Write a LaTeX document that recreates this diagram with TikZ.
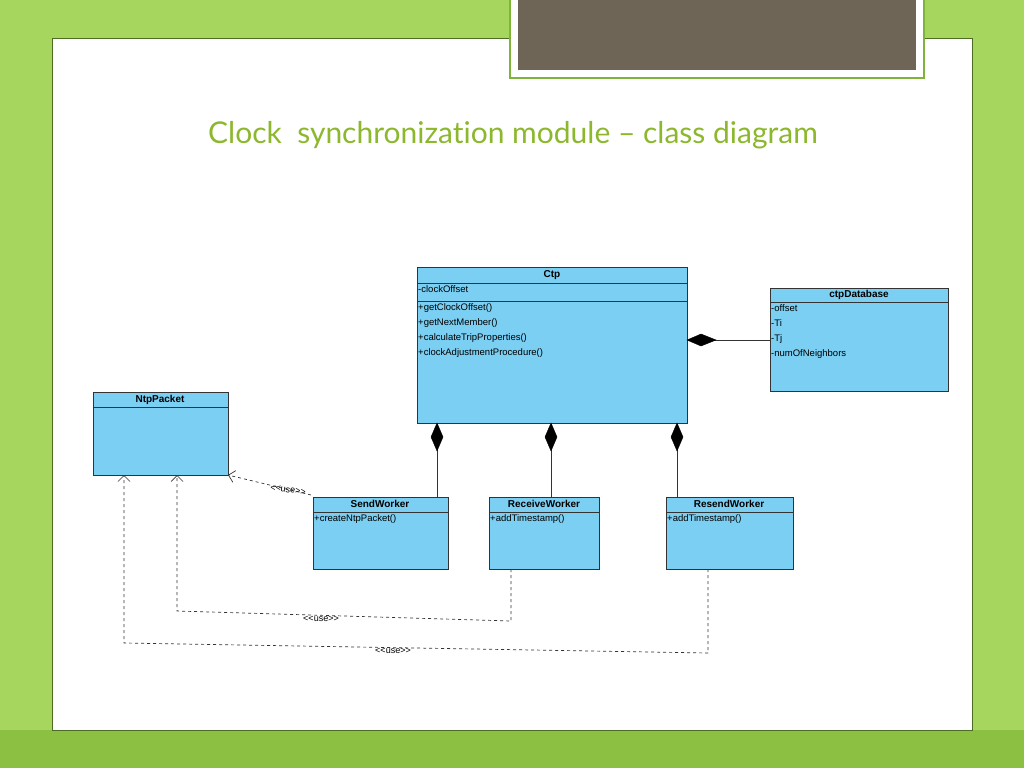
\documentclass[tikz,border=0pt]{standalone}
\usepackage{fontspec}
\setmainfont{Liberation Sans}
\newfontfamily\titlefont[Ligatures=NoCommon]{Lato}
\usetikzlibrary{arrows.meta}
\definecolor{bg}{HTML}{A6D65E}
\definecolor{bgd}{HTML}{8CC043}
\definecolor{umlfill}{HTML}{7ACFF3}
\definecolor{titlegreen}{HTML}{8DB82E}
\definecolor{topbox}{HTML}{6E6557}
\definecolor{frame}{HTML}{7FB33A}
\tikzset{
  cls/.style={draw=black!80, fill=umlfill, line width=0.8pt},
  sep/.style={draw=black!80, line width=0.8pt},
  hdr/.style={font=\fontsize{10}{11}\selectfont\bfseries, anchor=center, inner sep=0},
  mem/.style={font=\fontsize{9.5}{15}\selectfont, anchor=north west, inner sep=1pt, align=left},
  comp/.style={draw=black!80, line width=0.8pt},
  dia/.style={draw=black, fill=black},
  usedep/.style={draw=black!80, dashed, line width=0.7pt, -{Straight Barb[length=6pt,width=12pt]}},
  lbl/.style={font=\fontsize{9}{10}\selectfont, inner sep=0}
}
\newcommand\uselbl{<\kern0pt<use>\kern0pt>}
\begin{document}
\begin{tikzpicture}[x=1pt,y=-1pt]
\useasboundingbox (0,0) rectangle (1024,768);
\fill[bg] (0,0) rectangle (1024,768);
\fill[bgd] (0,730) rectangle (1024,768);
\fill[white] (52,38) rectangle (972,730);
\draw[frame!60!black, line width=0.5pt] (52,38) rectangle (972,730);
\fill[white] (510,0) rectangle (924,78);
\draw[frame, line width=1.5pt] (510,-2) rectangle (924,78);
\fill[topbox] (518,0) rectangle (916,70);
\node[text=titlegreen, font=\titlefont\fontsize{30}{34}\selectfont] (title) at (513,135) {Clock\ \ synchronization module – class diagram};

% Ctp
\draw[cls] (417,267) rectangle (687,423);
\draw[sep] (417,283) -- (687,283); \draw[sep] (417,301) -- (687,301);
\node[hdr] (ctp) at (552,275) {Ctp};
\node[mem] at (417,284) {-clockOffset};
\node[mem] at (417,302) {+getClockOffset()\\+getNextMember()\\+calculateTripProperties()\\+clockAdjustmentProcedure()};
\coordinate (ctpR) at (687,340);
\coordinate (ctpB1) at (437,423);
\coordinate (ctpB2) at (551,423);
\coordinate (ctpB3) at (677,423);

% ctpDatabase
\draw[cls] (770,288) rectangle (948,391);
\draw[sep] (770,302) -- (948,302);
\node[hdr] (db) at (859,295) {ctpDatabase};
\node[mem] at (770,303) {-offset\\-Ti\\-Tj\\-numOfNeighbors};
\coordinate (dbL) at (770,340);

% NtpPacket
\draw[cls] (93,392) rectangle (228,475);
\draw[sep] (93,407) -- (228,407);
\node[hdr] (ntp) at (160,400) {NtpPacket};
\coordinate (ntpC) at (228,475);
\coordinate (ntpB1) at (124,475);
\coordinate (ntpB2) at (177,475);

% workers
\draw[cls] (313,497) rectangle (448,569);
\draw[sep] (313,512) -- (448,512);
\node[hdr] (send) at (380,504) {SendWorker};
\node[mem] at (313,513) {+createNtpPacket()};
\draw[cls] (489,497) rectangle (599,569);
\draw[sep] (489,512) -- (599,512);
\node[hdr] (recv) at (544,504) {ReceiveWorker};
\node[mem] at (489,513) {+addTimestamp()};
\draw[cls] (666,497) rectangle (793,569);
\draw[sep] (666,512) -- (793,512);
\node[hdr] (resend) at (729,504) {ResendWorker};
\node[mem] at (666,513) {+addTimestamp()};

% compositions
\foreach \x/\n in {437/1,551/2,677/3}{
  \draw[comp] (ctpB\n) -- (\x,497);
  \filldraw[dia] (ctpB\n) -- (\x+6,437) -- (\x,451) -- (\x-6,437) -- cycle;
}
\draw[comp] (ctpR) -- (dbL);
\filldraw[dia] (ctpR) -- (701,334) -- (716,340) -- (701,346) -- cycle;

% dependencies
\draw[usedep] (311,495) -- (ntpC);
\node[lbl, rotate=-8] (l1) at (288,490) {\uselbl};
\draw[usedep] (511,569) -- (511,621) -- (177,611) -- (ntpB2);
\node[lbl] (l2) at (321,619) {\uselbl};
\draw[usedep] (708,569) -- (708,653) -- (124,643) -- (ntpB1);
\node[lbl] (l3) at (393,651) {\uselbl};
\end{tikzpicture}
\end{document}
